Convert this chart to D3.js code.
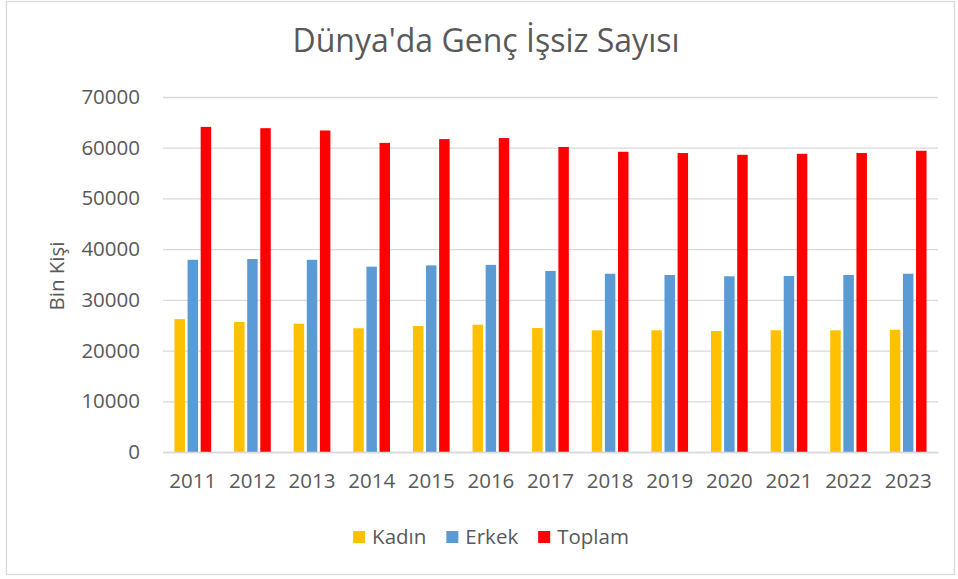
<!DOCTYPE html>
<html>
<head>
<meta charset="utf-8">
<script src="https://cdn.jsdelivr.net/npm/d3@7"></script>
<style>
  body { margin: 0; background: #fff; }
  text { font-family: "Open Sans", sans-serif; fill: #595959; }
</style>
</head>
<body>
<div id="chart"></div>
<script>
// data (bin kişi)
var years = ["2011", "2012", "2013", "2014", "2015", "2016", "2017", "2018", "2019", "2020", "2021", "2022", "2023"];
var kadin = [26200, 25650, 25300, 24400, 24850, 25100, 24450, 24000, 24000, 23850, 24000, 24000, 24100];
var erkek = [37900, 38050, 37900, 36550, 36800, 36900, 35700, 35150, 34900, 34650, 34700, 34900, 35150];
var toplam = [64100, 63850, 63400, 60950, 61700, 61900, 60150, 59200, 58950, 58600, 58800, 58950, 59400];
var seriesNames = ["Kadın", "Erkek", "Toplam"];
var seriesColors = ["#FFC000", "#5B9BD5", "#FF0000"];
var yTicks = [0, 10000, 20000, 30000, 40000, 50000, 60000, 70000];
var title = "Dünya'da Genç İşsiz Sayısı";
var yTitle = "Bin Kişi";

var width = 958, height = 579;
var plot = {left: 163, right: 938, top: 97, bottom: 452};

var svg = d3.select("#chart").append("svg")
  .attr("width", width)
  .attr("height", height);

// chart frame
svg.append("rect")
  .attr("x", 6.5).attr("y", 1.5)
  .attr("width", 948).attr("height", 573)
  .attr("fill", "#fff")
  .attr("stroke", "#d9d9d9")
  .attr("stroke-width", 1.3);

var x = d3.scaleBand()
  .domain(years)
  .range([plot.left, plot.right]);

var xInner = d3.scaleBand()
  .domain(seriesNames)
  .range([0, 36.7])
  .paddingInner(0.2);

var y = d3.scaleLinear()
  .domain([0, 70000])
  .range([plot.bottom, plot.top]);

// gridlines + y labels
var yAxis = svg.append("g")
  .attr("transform", "translate(" + plot.left + ",0)")
  .call(d3.axisLeft(y).tickValues(yTicks).tickFormat(d3.format("d"))
    .tickSize(-(plot.right - plot.left)).tickPadding(23));
yAxis.select(".domain").remove();
yAxis.selectAll(".tick line").attr("stroke", "#d9d9d9").attr("stroke-width", 1.3);
yAxis.selectAll(".tick text")
  .style("font-size", "20.5px")
  .attr("fill", "#595959");

// bars
var seriesData = seriesNames.map(function(name, i) {
  var vals = [kadin, erkek, toplam][i];
  return {name: name, color: seriesColors[i], values: years.map(function(yr, j) { return {year: yr, value: vals[j]}; })};
});

var groupOffset = (x.bandwidth() - 36.7) / 2;
svg.append("g").selectAll("g")
  .data(seriesData).enter()
  .append("g")
  .attr("fill", function(d) { return d.color; })
  .selectAll("rect")
  .data(function(d) { return d.values.map(function(v) { return {name: d.name, year: v.year, value: v.value}; }); })
  .enter().append("rect")
    .attr("x", function(d) { return x(d.year) + groupOffset + xInner(d.name); })
    .attr("y", function(d) { return y(d.value); })
    .attr("width", xInner.bandwidth())
    .attr("height", function(d) { return y(0) - y(d.value); });

// x axis
var xAxis = svg.append("g")
  .attr("transform", "translate(0," + plot.bottom + ")")
  .call(d3.axisBottom(x).tickSize(0).tickPadding(21));
xAxis.select(".domain").attr("stroke", "#d9d9d9").attr("stroke-width", 1.3);
xAxis.selectAll(".tick text")
  .style("font-size", "20.5px")
  .attr("fill", "#595959");

// title
svg.append("text")
  .attr("x", 486)
  .attr("y", 52)
  .attr("text-anchor", "middle")
  .style("font-size", "32px")
  .style("font-weight", 400)
  .text(title);

// y axis title
svg.append("text")
  .attr("transform", "translate(64,276) rotate(-90)")
  .attr("text-anchor", "middle")
  .style("font-size", "20.5px")
  .text(yTitle);

// legend
var legend = svg.append("g");
var lx = 0;
seriesNames.forEach(function(name, i) {
  var item = legend.append("g").attr("transform", "translate(" + lx + ",0)");
  item.append("rect")
    .attr("x", 0).attr("y", -6)
    .attr("width", 12).attr("height", 12)
    .attr("fill", seriesColors[i]);
  var t = item.append("text")
    .attr("x", 19).attr("y", 7)
    .style("font-size", "20.5px")
    .text(name);
  lx += 19 + t.node().getComputedTextLength() + 20;
});
var legendWidth = lx - 20;
legend.attr("transform", "translate(" + (491 - legendWidth / 2) + ",537)");
</script>
</body>
</html>
